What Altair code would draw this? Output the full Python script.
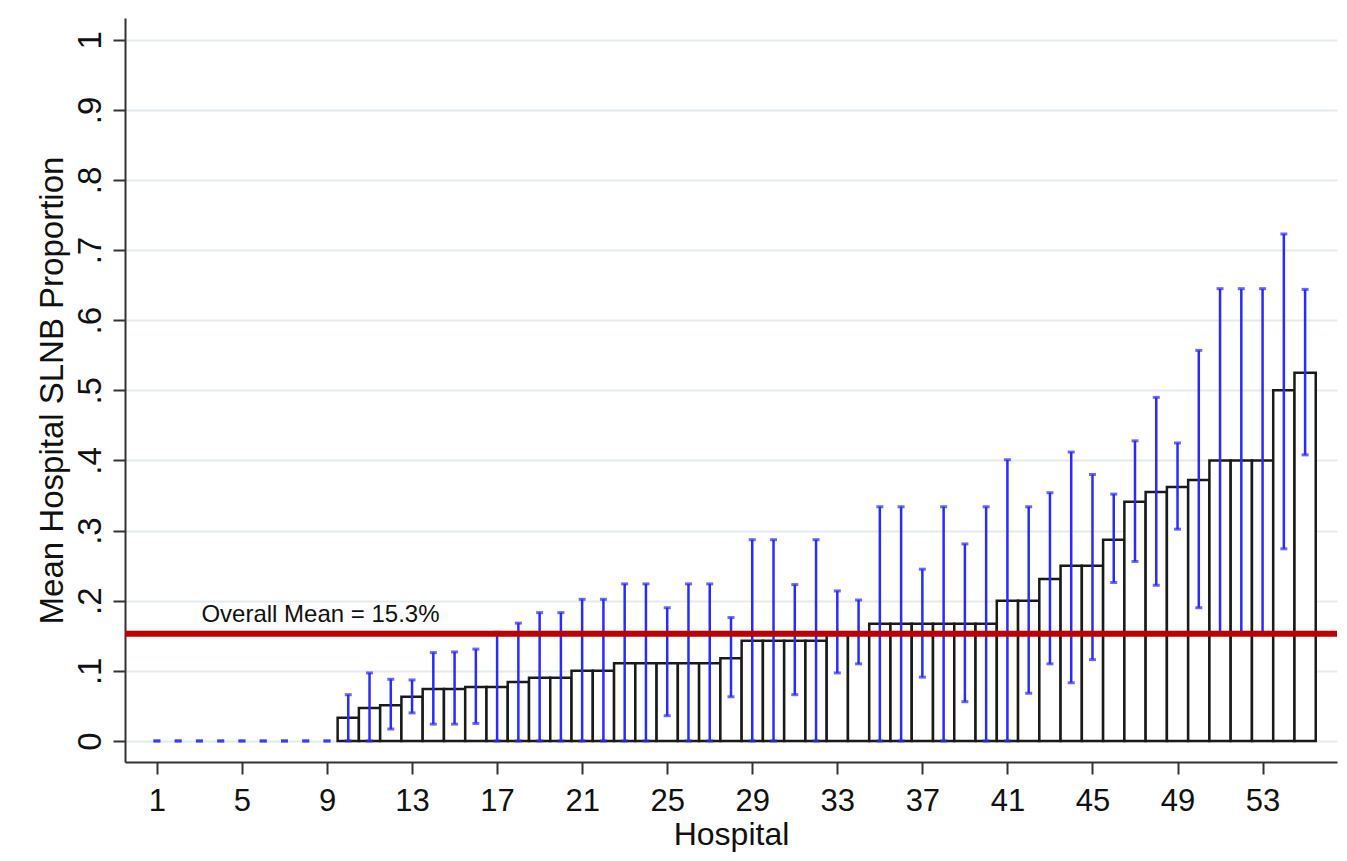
import altair as alt
import pandas as pd

hospital = list(range(1, 56))
mean_prop = [0] * 9 + [
    0.033, 0.047, 0.051, 0.063, 0.074, 0.074, 0.077, 0.077, 0.084, 0.09,
    0.09, 0.1, 0.1, 0.111, 0.111, 0.111, 0.111, 0.111, 0.118, 0.143,
    0.143, 0.143, 0.143, 0.154, 0.154, 0.167, 0.167, 0.167, 0.167, 0.167,
    0.167, 0.2, 0.2, 0.231, 0.25, 0.25, 0.287, 0.341, 0.355, 0.362,
    0.372, 0.4, 0.4, 0.4, 0.5, 0.525]
ci_low = [0] * 9 + [
    0, 0, 0.017, 0.04, 0.024, 0.024, 0.025, 0, 0, 0,
    0, 0, 0, 0, 0, 0.036, 0, 0, 0.063, 0,
    0, 0.066, 0, 0.097, 0.11, 0, 0, 0.091, 0, 0.056,
    0, 0, 0.068, 0.11, 0.083, 0.116, 0.226, 0.256, 0.222, 0.302,
    0.19, 0.153, 0.153, 0.153, 0.274, 0.408]
ci_high = [0] * 9 + [
    0.066, 0.097, 0.088, 0.087, 0.126, 0.127, 0.131, 0.155, 0.168, 0.183,
    0.183, 0.202, 0.202, 0.224, 0.224, 0.19, 0.224, 0.224, 0.176, 0.287,
    0.287, 0.223, 0.287, 0.214, 0.201, 0.334, 0.334, 0.245, 0.334, 0.281,
    0.334, 0.401, 0.334, 0.354, 0.412, 0.38, 0.352, 0.428, 0.49, 0.425,
    0.557, 0.645, 0.645, 0.645, 0.723, 0.644]
x_ticks = [1, 5, 9, 13, 17, 21, 25, 29, 33, 37, 41, 45, 49, 53]
y_ticks = [0, 0.1, 0.2, 0.3, 0.4, 0.5, 0.6, 0.7, 0.8, 0.9, 1]
overall_mean = 0.153
mean_label = "Overall Mean = 15.3%"

df = pd.DataFrame({"hospital": hospital, "mean": mean_prop, "lo": ci_low, "hi": ci_high})

FONT = "Liberation Sans"
xscale = alt.Scale(domain=[-0.5, 56.5], nice=False, zero=False)
yscale = alt.Scale(domain=[-0.03, 1.031], nice=False, zero=False)

xaxis = alt.Axis(values=x_ticks, title="Hospital", grid=False, labelFontSize=31,
                 titleFontSize=32, labelFont=FONT, titleFont=FONT, labelColor="#111",
                 titleColor="#111", titleFontWeight="normal", tickSize=12, tickWidth=2,
                 tickColor="#333", domainColor="#333", domainWidth=2, labelPadding=12,
                 titlePadding=3, labelFlush=False)
yaxis = alt.Axis(values=y_ticks, title="Mean Hospital SLNB Proportion", grid=True,
                 gridColor="#e4ebef", gridWidth=2, labelFontSize=33, titleFontSize=33,
                 labelFont=FONT, titleFont=FONT, labelColor="#111", titleColor="#111",
                 titleFontWeight="normal", tickSize=12, tickWidth=2, tickColor="#333",
                 domainColor="#333", domainWidth=2, labelAngle=270, labelAlign="center",
                 labelBaseline="alphabetic", labelPadding=13, titlePadding=5,
                 labelFlush=False,
                 labelExpr="datum.value == 0 ? '0' : (datum.value >= 1 ? '1' : replace(format(datum.value, '.1f'), '0.', '.'))")

base = alt.Chart(df)

bars = base.transform_filter("datum.mean > 0").transform_calculate(
    x0="datum.hospital - 0.5", x1="datum.hospital + 0.5"
).mark_bar(fill="white", stroke="#1a1a1a", strokeWidth=2.5).encode(
    x=alt.X("x0:Q", scale=xscale, axis=xaxis),
    x2="x1:Q",
    y=alt.Y("mean:Q", scale=yscale, axis=yaxis),
    y2=alt.datum(0),
)

err = base.mark_rule(color="#2a2aff", strokeWidth=2.5).encode(
    x=alt.X("hospital:Q", scale=xscale),
    y=alt.Y("lo:Q", scale=yscale),
    y2="hi:Q",
)
cap_lo = base.mark_tick(color="#2a2aff", orient="horizontal", size=7, thickness=3).encode(
    x=alt.X("hospital:Q", scale=xscale), y=alt.Y("lo:Q", scale=yscale))
cap_hi = base.mark_tick(color="#2a2aff", orient="horizontal", size=7, thickness=3).encode(
    x=alt.X("hospital:Q", scale=xscale), y=alt.Y("hi:Q", scale=yscale))

ref = alt.Chart(pd.DataFrame({"y": [overall_mean]})).mark_rule(
    color="#c00000", strokeWidth=6).encode(y=alt.Y("y:Q", scale=yscale))

lab = alt.Chart(pd.DataFrame({"x": [3], "y": [0.18], "t": [mean_label]})).mark_text(
    align="left", baseline="middle", fontSize=24, font=FONT, color="#111", dx=2
).encode(x=alt.X("x:Q", scale=xscale), y=alt.Y("y:Q", scale=yscale), text="t:N")

chart = alt.layer(bars, err, cap_lo, cap_hi, ref, lab).properties(
    width=1212, height=744,
    autosize=alt.AutoSizeParams(type="none"),
    padding={"left": 125, "top": 18, "right": 10, "bottom": 99},
    background="white",
).configure_view(stroke=None)

chart.save("out.html", embed_options={"renderer": "svg", "actions": False})
